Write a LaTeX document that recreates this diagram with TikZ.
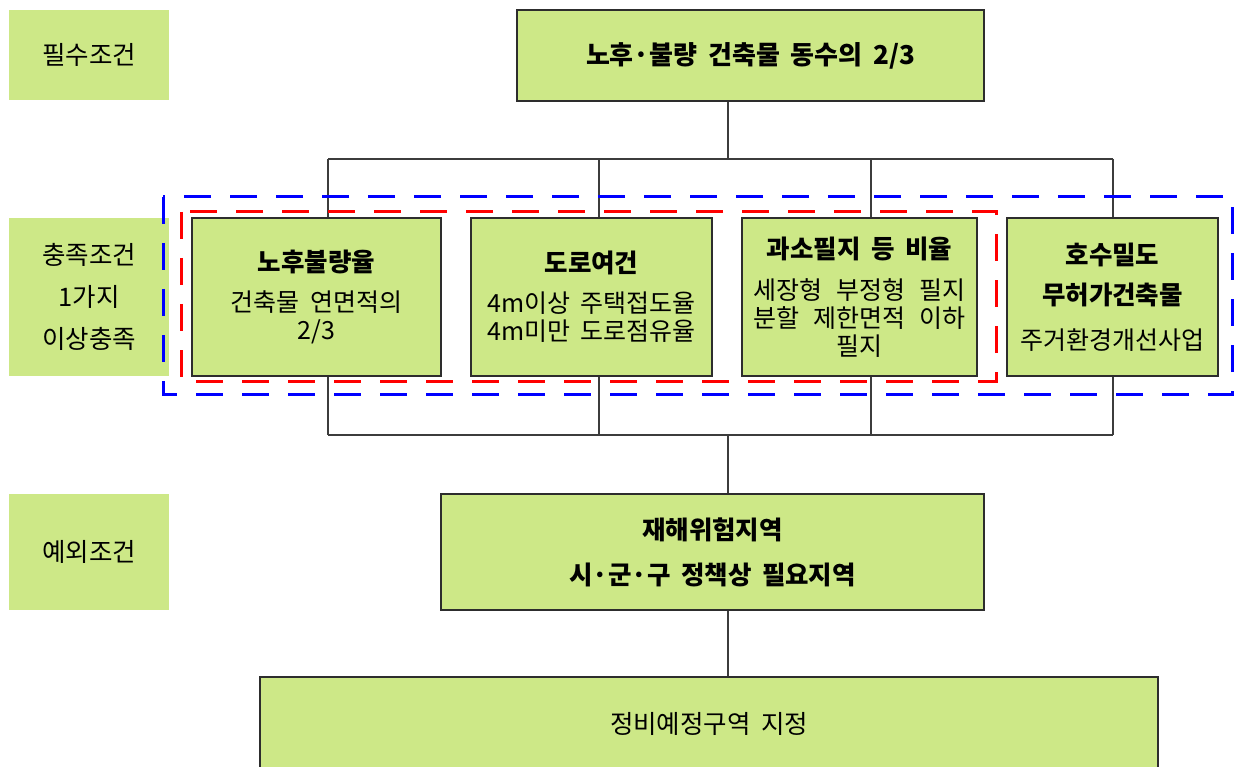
\documentclass[tikz,border=0pt]{standalone}
\usepackage{fontspec}
\setmainfont{Noto Sans CJK KR}[WordSpace=1.8]
\definecolor{boxfill}{RGB}{205,232,135}
\definecolor{edgec}{RGB}{45,45,45}
\definecolor{connc}{RGB}{60,60,60}
\tikzset{
  box/.style={draw=edgec, line width=1.2pt, fill=boxfill, inner sep=0pt, align=center,
    font=\fontsize{25}{28}\selectfont},
  lab/.style={fill=boxfill, inner sep=0pt, align=center, font=\fontsize{25.5}{28}\selectfont},
  conn/.style={draw=connc, line width=1.5pt},
  reddash/.style={draw=red, line width=3pt, dash pattern=on 27pt off 19pt},
  bluedash/.style={draw=blue, line width=3pt, dash pattern=on 27pt off 19pt},
}
\newcommand{\ttl}{\fontsize{25.5}{28}\selectfont\bfseries}
\begin{document}
\begin{tikzpicture}[x=1pt,y=-1pt]
\clip (0,0) rectangle (1234,767);
\fill[white] (0,0) rectangle (1234,767);

% left labels
\node[lab, minimum width=160pt, minimum height=90pt] (lab1) at (89,55) {필수조건};
\node[lab, minimum width=160pt, minimum height=158pt] (lab2) at (89,297) {충족조건\\[14pt]1가지\\[14pt]이상충족};
\node[lab, minimum width=160pt, minimum height=116pt] (lab3) at (89,552) {예외조건};

% connector coordinates
\coordinate (jt) at (728,159);
\coordinate (h1) at (328,159);
\coordinate (h2) at (599,159);
\coordinate (h3) at (871,159);
\coordinate (h4) at (1113,159);
\coordinate (g1) at (328,435);
\coordinate (g2) at (599,435);
\coordinate (g3) at (871,435);
\coordinate (g4) at (1113,435);
\coordinate (jb) at (728,435);

\node[box, minimum width=467pt, minimum height=91pt, font=\fontsize{26}{28}\selectfont\bfseries] (top) at (750.5,55.5) {노후·불량 건축물 동수의 2/3};

\path (316.5,297) coordinate (c1) (591.5,297) coordinate (c2) (859.5,297) coordinate (c3) (1112.5,297) coordinate (c4);

% connectors
\draw[conn] (top.south -| jt) -- (jt);
\draw[conn] (h1) -- (h4);
\draw[conn] (h1) -- (g1);
\draw[conn] (h2) -- (g2);
\draw[conn] (h3) -- (g3);
\draw[conn] (h4) -- (g4);
\draw[conn] (g1) -- (g4);

\node[box, minimum width=543pt, minimum height=116pt, font=\ttl] (exc) at (712.5,552) {재해위험지역\\[17pt]시·군·구 정책상 필요지역};
\node[box, minimum width=898pt, minimum height=93pt, font=\fontsize{25.5}{28}\selectfont] (fin) at (709,723.5) {정비예정구역 지정};

\draw[conn] (jb) -- (exc.north -| jb);
\draw[conn] (exc.south -| jb) -- (fin.north -| jb);

% dashed groups
\draw[bluedash] (163,197) rectangle (1232,394);
\draw[reddash] (181,212) rectangle (996,381);

% middle boxes
\node[box, minimum width=249pt, minimum height=158pt] (b1) at (c1)
  {{\ttl 노후불량율}\\[12pt]건축물 연면적의\\2/3};
\node[box, minimum width=241pt, minimum height=158pt] (b2) at (c2)
  {{\ttl 도로여건}\\[12pt]4m이상 주택접도율\\4m미만 도로점유율};
\node[box, minimum width=235pt, minimum height=158pt] (b3) at (c3)
  {{\ttl 과소필지 등 비율}\\[13pt]\makebox[212pt][s]{세장형 부정형 필지}\\\makebox[212pt][s]{분할 제한면적 이하}\\필지};
\node[box, minimum width=211pt, minimum height=158pt] (b4) at (c4)
  {{\ttl 호수밀도}\\[12pt]{\ttl 무허가건축물}\\[17pt]주거환경개선사업};
\end{tikzpicture}
\end{document}
